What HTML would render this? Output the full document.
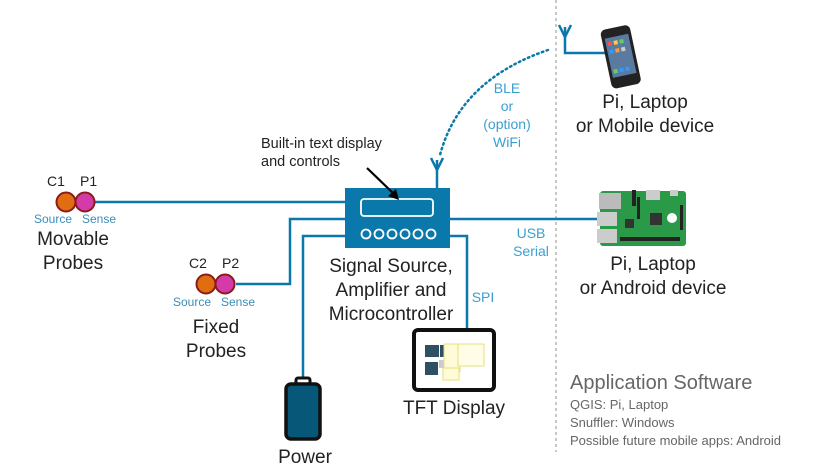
<!DOCTYPE html>
<html><head><meta charset="utf-8"><style>
html,body{margin:0;padding:0;background:#fff;}
svg{display:block;}
text{font-family:"Liberation Sans",sans-serif;}
</style></head><body>
<svg width="824" height="473" viewBox="0 0 824 473" xmlns="http://www.w3.org/2000/svg">
<line x1="556" y1="0" x2="556" y2="452" stroke="#aaa" stroke-width="1.3" stroke-dasharray="3,3"/>
<g stroke="#0a78ab" stroke-width="2.5" fill="none">
<line x1="95" y1="202" x2="346" y2="202"/>
<polyline points="236,284 290,284 290,219 346,219"/>
<polyline points="303,378 303,236 346,236"/>
<line x1="450" y1="219" x2="598" y2="219"/>
<polyline points="450,236 467,236 467,329"/>
<line x1="437" y1="160" x2="437" y2="188"/>
<polyline points="431,158 437,170 443,158"/>
<polyline points="565,27 565,53 608,53"/>
<polyline points="559,25 565,37 571,25"/>
</g>
<path d="M548,50 Q460,80 440,155" fill="none" stroke="#0a78ab" stroke-width="2.5" stroke-dasharray="1.5,3.5" stroke-linecap="round"/>
<rect x="345" y="188" width="105" height="60" fill="#0a78ab"/>
<rect x="361" y="199" width="72" height="17" rx="3" fill="none" stroke="#fff" stroke-width="1.8"/>
<g fill="none" stroke="#fff" stroke-width="1.8">
<circle cx="366" cy="234" r="4.5"/><circle cx="379" cy="234" r="4.5"/><circle cx="392" cy="234" r="4.5"/>
<circle cx="405" cy="234" r="4.5"/><circle cx="418" cy="234" r="4.5"/><circle cx="431" cy="234" r="4.5"/>
</g>
<line x1="367" y1="168" x2="395" y2="195" stroke="#000" stroke-width="2.2"/>
<polygon points="399,200 388,196 396,189" fill="#000"/>
<text x="261" y="148" font-size="14.5" fill="#222">Built-in text display</text>
<text x="261" y="166" font-size="14.5" fill="#222">and controls</text>
<g stroke="#8b1a1a" stroke-width="2">
<circle cx="66" cy="202" r="9.5" fill="#e06d10"/><circle cx="85" cy="202" r="9.5" fill="#d43ba8"/>
<circle cx="206" cy="284" r="9.5" fill="#e06d10"/><circle cx="225" cy="284" r="9.5" fill="#d43ba8"/>
</g>
<g font-size="14" fill="#222">
<text x="47" y="186">C1</text><text x="80" y="186">P1</text>
<text x="189" y="268">C2</text><text x="222" y="268">P2</text>
</g>
<g font-size="12" fill="#3b8db8">
<text x="34" y="223">Source</text><text x="82" y="223">Sense</text>
<text x="173" y="306">Source</text><text x="221" y="306">Sense</text>
</g>
<g font-size="19" fill="#222" text-anchor="middle">
<text x="73" y="245">Movable</text><text x="73" y="269">Probes</text>
<text x="216" y="333">Fixed</text><text x="216" y="357">Probes</text>
<text x="391" y="272">Signal Source,</text>
<text x="391" y="296">Amplifier and</text>
<text x="391" y="320">Microcontroller</text>
<text x="454" y="414">TFT Display</text>
<text x="305" y="463">Power</text>
<text x="645" y="108">Pi, Laptop</text>
<text x="645" y="132">or Mobile device</text>
<text x="653" y="270">Pi, Laptop</text>
<text x="653" y="294">or Android device</text>
</g>
<g font-size="14" fill="#3b9fd0" text-anchor="middle">
<text x="507" y="93">BLE</text><text x="507" y="111">or</text>
<text x="507" y="129">(option)</text><text x="507" y="147">WiFi</text>
<text x="531" y="238">USB</text><text x="531" y="256">Serial</text>
<text x="483" y="302">SPI</text>
</g>
<rect x="296" y="378" width="14" height="8" rx="2" fill="#fff" stroke="#111" stroke-width="3"/>
<rect x="286" y="384" width="34" height="55" rx="5" fill="#075779" stroke="#111" stroke-width="3.5"/>
<rect x="414" y="330" width="80" height="60" rx="4" fill="#fff" stroke="#111" stroke-width="4"/>
<rect x="425" y="345" width="14" height="12" fill="#2f4f63"/><rect x="440" y="345" width="13" height="12" fill="#2f4f63"/>
<rect x="425" y="362" width="13" height="13" fill="#2f4f63"/><rect x="439" y="360" width="9" height="8" fill="#ccc"/>
<rect x="444" y="344" width="16" height="28" fill="#fffbd8" stroke="#e6e27a"/>
<rect x="458" y="344" width="26" height="22" fill="#fffde8" stroke="#e6e27a"/>
<rect x="443" y="368" width="16" height="12" fill="#fffbd8" stroke="#e6e27a"/>
<g transform="rotate(-12 620 58)">
<rect x="606" y="27" width="30" height="60" rx="5" fill="#222"/>
<rect x="609" y="36" width="24" height="40" fill="#5a7aa0"/>
<rect x="611" y="40" width="4" height="4" fill="#e55"/><rect x="617" y="40" width="4" height="4" fill="#fc3"/><rect x="623" y="40" width="4" height="4" fill="#6c6"/>
<rect x="611" y="48" width="4" height="4" fill="#39f"/><rect x="617" y="48" width="4" height="4" fill="#f93"/><rect x="623" y="48" width="4" height="4" fill="#ccc"/>
<rect x="611" y="68" width="4" height="4" fill="#6c6"/><rect x="617" y="68" width="4" height="4" fill="#39f"/><rect x="623" y="68" width="4" height="4" fill="#39f"/>
</g>
<rect x="600" y="191" width="86" height="55" rx="3" fill="#2a9a48"/>
<rect x="599" y="193" width="22" height="16" fill="#bbb"/>
<rect x="597" y="212" width="20" height="14" fill="#ccc"/><rect x="597" y="229" width="20" height="14" fill="#ccc"/>
<rect x="646" y="190" width="14" height="10" fill="#ccc"/><rect x="670" y="190" width="8" height="6" fill="#ccc"/>
<rect x="632" y="190" width="4" height="16" fill="#222"/><rect x="637" y="197" width="3" height="22" fill="#222"/>
<rect x="620" y="237" width="60" height="4" fill="#222"/><rect x="680" y="205" width="3" height="25" fill="#222"/>
<rect x="625" y="219" width="9" height="9" fill="#333"/><rect x="650" y="213" width="12" height="12" fill="#333"/>
<circle cx="672" cy="218" r="5" fill="#fff"/>
<text x="570" y="389" font-size="20" fill="#666">Application Software</text>
<g font-size="13" fill="#666">
<text x="570" y="409">QGIS: Pi, Laptop</text>
<text x="570" y="427">Snuffler: Windows</text>
<text x="570" y="445">Possible future mobile apps: Android</text>
</g>
</svg>
</body></html>
